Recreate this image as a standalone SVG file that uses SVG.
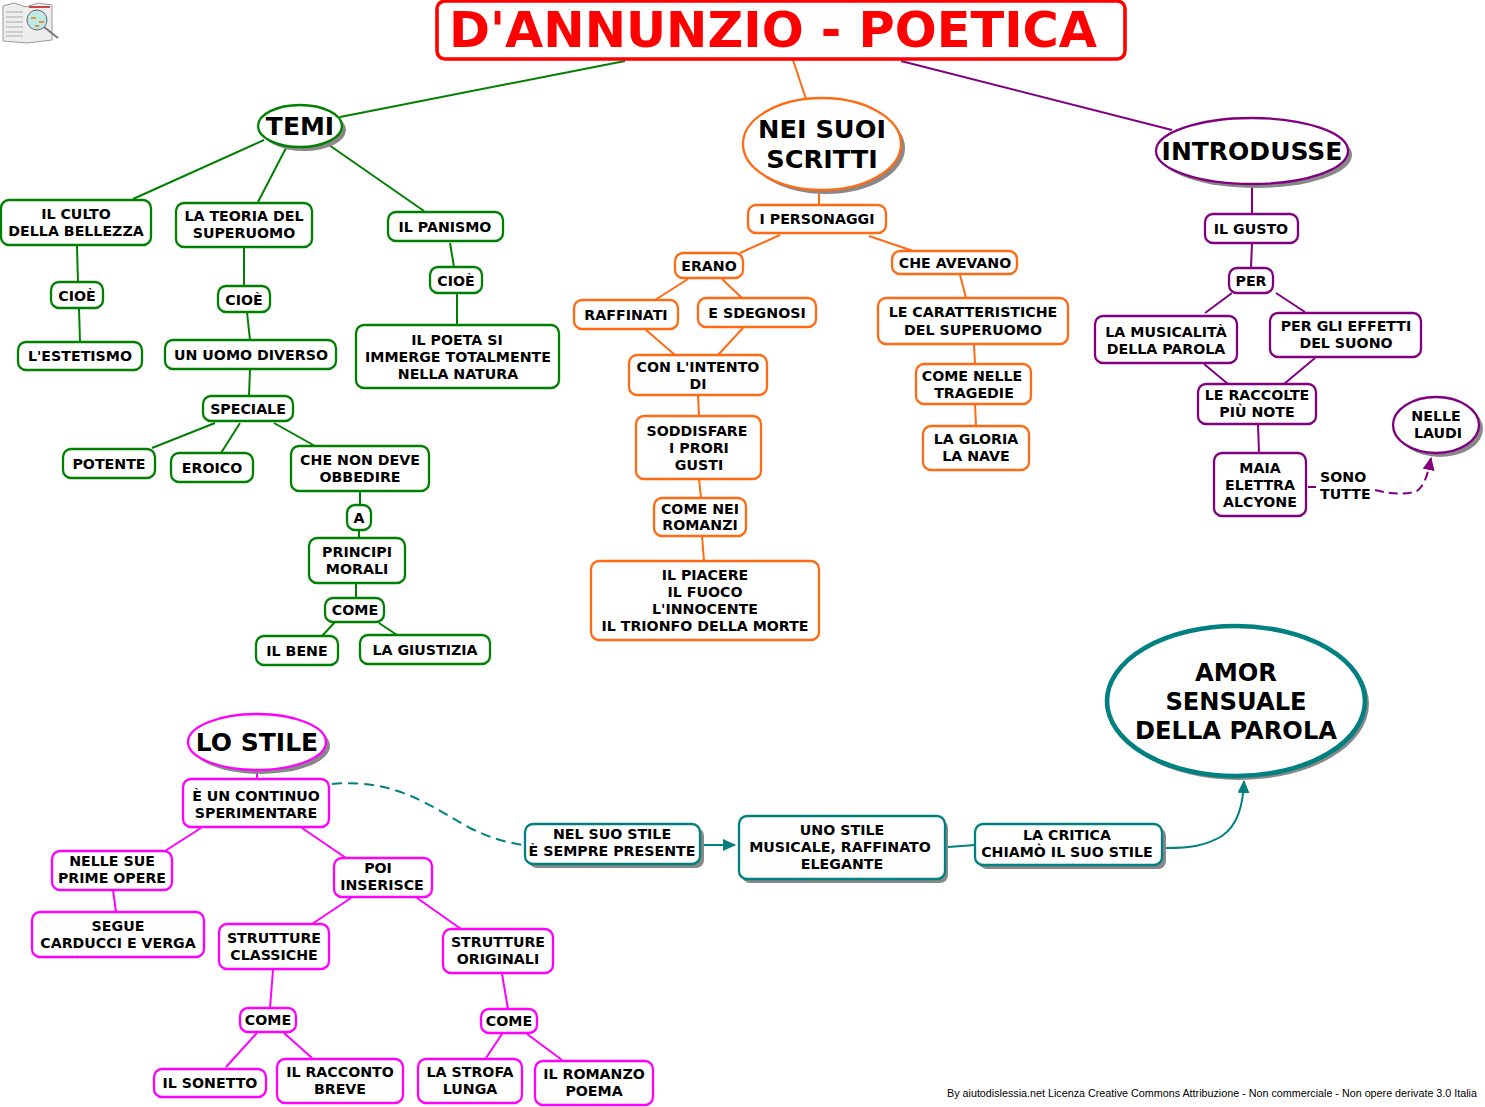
<svg xmlns="http://www.w3.org/2000/svg" width="1485" height="1107" viewBox="0 0 1485 1107">
<style>
text{font-family:"DejaVu Sans",Verdana,sans-serif;font-weight:700;fill:#000;text-anchor:middle;font-size:14.2px}
.n rect,.n ellipse{fill:#fff;stroke-width:2.3}
.g rect,.g ellipse{stroke:#008000}.o rect,.o ellipse{stroke:#ff6a13}.p rect,.p ellipse{stroke:#800080}.m rect,.m ellipse{stroke:#ff00ff}.t rect,.t ellipse{stroke:#008080}
.n .s{fill:#888;stroke:none}
#connectors path{fill:none;stroke-width:2}
.cg{stroke:#008000}.co{stroke:#ff6a13}.cp{stroke:#800080}.cm{stroke:#ff00ff}.ct{stroke:#008080}
text.big{font-size:25px}text.mid{font-size:24.2px}text.nei{font-size:25.6px}
#footer text{font:400 10.75px "Liberation Sans",Arial,sans-serif;text-anchor:start}
</style>
<defs>
<marker id="at" markerUnits="userSpaceOnUse" markerWidth="13" markerHeight="12" refX="12" refY="6" orient="auto"><path d="M0 0L13 6L0 12z" fill="#008080"/></marker>
<marker id="ap" markerUnits="userSpaceOnUse" markerWidth="13" markerHeight="12" refX="12" refY="6" orient="auto"><path d="M0 0L13 6L0 12z" fill="#800080"/></marker>
</defs>
<g id="icon">
<path d="M3 6L14 3L26 7L38 3L52 5V40L27 43L3 41z" fill="#eee" stroke="#999"/>
<path d="M6 12H23M6 17H23M6 22H23M6 27H23M6 32H23M6 36H23" stroke="#aaa"/>
<path d="M29 7H50" stroke="#c44" stroke-width="2"/>
<path d="M44 27L58 38" stroke="#777" stroke-width="2"/>
<circle cx="37" cy="20" r="10" fill="#bfe8e8" stroke="#666"/>
<path d="M31 18h5M39 22h5M35 26h4" stroke="#d89a30" stroke-width="2"/>
</g>
<g id="connectors">
<path class="cg" d="M625 61L340 117M264 140L133 199M286 148L258 202M329 145L424 211M77 246L78 282M79 308L80 342M244 248V286M247 312L250 340M450 243L454 267M457 293V325M250 369L249 396M215 423L152 448M240 423L221 453M274 423L315 446M360 491V505M359 530V538M356 583V598M335 622L322 636M379 623L397 635"/>
<path class="co" d="M793 60L806 99M819 190V205M780 235L740 253M869 236L913 251M688 279L655 300M722 279L742 298M646 330L675 355M743 328L718 355M960 275L966 298M974 344L975 364M975 404L976 426M698 395L699 416M699 479L701 498M702 536L704 561"/>
<path class="cp" d="M901 61L1172 130M1252 185V214M1252 243L1251 268M1232 293L1205 313M1276 293L1305 312M1204 364L1228 384M1315 358L1284 384M1258 424L1259 453M1308 487H1316"/>
<path class="cp" d="M1375 490C1390 494 1405 495 1417 491C1425 485 1428 473 1431 458" stroke-dasharray="9 5" marker-end="url(#ap)"/>
<path class="cm" d="M257 769V779M201 828L165 851M302 828L346 858M113 890L116 912M351 898L312 924M417 898L461 929M273 970L270 1008M502 974L508 1009M257 1033L226 1067M284 1033L312 1058M502 1034L486 1058M527 1034L562 1060"/>
<path class="ct" d="M332 784C395 778 430 806 470 828C490 838 505 842 523 845" stroke-dasharray="10 6"/>
<path class="ct" d="M704 845H735" marker-end="url(#at)"/>
<path class="ct" d="M948 847L975 845"/>
<path class="ct" d="M1166 848C1190 848 1205 846 1222 836C1238 825 1243 805 1244 781" marker-end="url(#at)"/>
</g>
<g id="title"><rect x="437" y="1" width="688" height="58" rx="8" fill="#fff" stroke="#f00" stroke-width="3.6"/><text x="773" y="47" style="font-size:50px;fill:#f00" textLength="648" lengthAdjust="spacingAndGlyphs">D'ANNUNZIO - POETICA</text></g>

<g id="temi" class="n g"><ellipse class="s" cx="304" cy="130" rx="42" ry="21"/><ellipse cx="300" cy="126" rx="42" ry="21"/><text x="300" y="135" class="big">TEMI</text></g>
<g id="g1" class="n g"><rect x="1" y="200" width="150" height="45" rx="8"/><text x="76" y="219">IL CULTO</text><text x="76" y="236">DELLA BELLEZZA</text></g>
<g id="g2" class="n g"><rect x="176" y="203" width="136" height="44" rx="8"/><text x="244" y="221">LA TEORIA DEL</text><text x="244" y="238">SUPERUOMO</text></g>
<g id="g3" class="n g"><rect x="388" y="212" width="115" height="29" rx="8"/><text x="445" y="232">IL PANISMO</text></g>
<g id="g4" class="n g"><rect x="51" y="282" width="52" height="26" rx="8"/><text x="77" y="301">CIOÈ</text></g>
<g id="g5" class="n g"><rect x="218" y="286" width="52" height="26" rx="8"/><text x="244" y="305">CIOÈ</text></g>
<g id="g6" class="n g"><rect x="430" y="267" width="52" height="26" rx="8"/><text x="456" y="286">CIOÈ</text></g>
<g id="g7" class="n g"><rect x="18" y="342" width="124" height="28" rx="8"/><text x="80" y="361">L'ESTETISMO</text></g>
<g id="g8" class="n g"><rect x="165" y="340" width="171" height="29" rx="8"/><text x="251" y="360">UN UOMO DIVERSO</text></g>
<g id="g9" class="n g"><rect x="356" y="325" width="203" height="63" rx="8"/><text x="457" y="345">IL POETA SI</text><text x="458" y="362">IMMERGE TOTALMENTE</text><text x="458" y="379">NELLA NATURA</text></g>
<g id="g10" class="n g"><rect x="203" y="396" width="90" height="25" rx="8"/><text x="248" y="414">SPECIALE</text></g>
<g id="g11" class="n g"><rect x="63" y="449" width="92" height="29" rx="8"/><text x="109" y="469">POTENTE</text></g>
<g id="g12" class="n g"><rect x="171" y="453" width="82" height="29" rx="8"/><text x="212" y="473">EROICO</text></g>
<g id="g13" class="n g"><rect x="291" y="446" width="138" height="45" rx="8"/><text x="360" y="465">CHE NON DEVE</text><text x="360" y="482">OBBEDIRE</text></g>
<g id="g14" class="n g"><rect x="347" y="505" width="24" height="25" rx="8"/><text x="359" y="523">A</text></g>
<g id="g15" class="n g"><rect x="309" y="538" width="96" height="45" rx="8"/><text x="357" y="557">PRINCIPI</text><text x="357" y="574">MORALI</text></g>
<g id="g16" class="n g"><rect x="325" y="598" width="59" height="24" rx="8"/><text x="355" y="615">COME</text></g>
<g id="g17" class="n g"><rect x="256" y="636" width="82" height="29" rx="8"/><text x="297" y="656">IL BENE</text></g>
<g id="g18" class="n g"><rect x="360" y="635" width="130" height="29" rx="8"/><text x="425" y="655">LA GIUSTIZIA</text></g>

<g id="scritti" class="n o"><ellipse class="s" cx="826" cy="148" rx="79" ry="46"/><ellipse cx="822" cy="144" rx="79" ry="46"/><text x="822" y="138" class="nei">NEI SUOI</text><text x="822" y="168" class="nei">SCRITTI</text></g>
<g id="o1" class="n o"><rect x="748" y="205" width="138" height="28" rx="8"/><text x="817" y="224">I PERSONAGGI</text></g>
<g id="o2" class="n o"><rect x="675" y="253" width="68" height="25" rx="8"/><text x="709" y="271">ERANO</text></g>
<g id="o3" class="n o"><rect x="892" y="251" width="125" height="23" rx="8"/><text x="955" y="268">CHE AVEVANO</text></g>
<g id="o4" class="n o"><rect x="574" y="300" width="104" height="29" rx="8"/><text x="626" y="320">RAFFINATI</text></g>
<g id="o5" class="n o"><rect x="698" y="298" width="118" height="29" rx="8"/><text x="757" y="318">E SDEGNOSI</text></g>
<g id="o6" class="n o"><rect x="878" y="298" width="190" height="46" rx="8"/><text x="973" y="317">LE CARATTERISTICHE</text><text x="973" y="335">DEL SUPERUOMO</text></g>
<g id="o7" class="n o"><rect x="629" y="355" width="138" height="40" rx="8"/><text x="698" y="372">CON L'INTENTO</text><text x="698" y="389">DI</text></g>
<g id="o8" class="n o"><rect x="916" y="364" width="115" height="40" rx="8"/><text x="972" y="381">COME NELLE</text><text x="974" y="398">TRAGEDIE</text></g>
<g id="o9" class="n o"><rect x="636" y="416" width="125" height="63" rx="8"/><text x="697" y="436">SODDISFARE</text><text x="699" y="453">I PRORI</text><text x="699" y="470">GUSTI</text></g>
<g id="o10" class="n o"><rect x="923" y="426" width="106" height="44" rx="8"/><text x="976" y="444">LA GLORIA</text><text x="976" y="461">LA NAVE</text></g>
<g id="o11" class="n o"><rect x="654" y="498" width="92" height="38" rx="8"/><text x="700" y="514">COME NEI</text><text x="700" y="530">ROMANZI</text></g>
<g id="o12" class="n o"><rect x="591" y="561" width="228" height="79" rx="8"/><text x="705" y="580">IL PIACERE</text><text x="705" y="597">IL FUOCO</text><text x="705" y="614">L'INNOCENTE</text><text x="705" y="631">IL TRIONFO DELLA MORTE</text></g>

<g id="introdusse" class="n p"><ellipse class="s" cx="1256" cy="155" rx="96" ry="33"/><ellipse cx="1252" cy="151" rx="96" ry="33"/><text x="1252" y="160" class="big">INTRODUSSE</text></g>
<g id="p1" class="n p"><rect x="1205" y="214" width="93" height="29" rx="8"/><text x="1251" y="234">IL GUSTO</text></g>
<g id="p2" class="n p"><rect x="1229" y="268" width="44" height="25" rx="8"/><text x="1251" y="286">PER</text></g>
<g id="p3" class="n p"><rect x="1095" y="316" width="142" height="47" rx="8"/><text x="1166" y="337">LA MUSICALITÀ</text><text x="1166" y="354">DELLA PAROLA</text></g>
<g id="p4" class="n p"><rect x="1270" y="313" width="151" height="44" rx="8"/><text x="1346" y="331">PER GLI EFFETTI</text><text x="1346" y="348">DEL SUONO</text></g>
<g id="p5" class="n p"><rect x="1198" y="384" width="118" height="40" rx="8"/><text x="1257" y="400">LE RACCOLTE</text><text x="1257" y="417">PIÙ NOTE</text></g>
<g id="p6" class="n p"><rect x="1214" y="453" width="92" height="63" rx="8"/><text x="1260" y="473">MAIA</text><text x="1260" y="490">ELETTRA</text><text x="1260" y="507">ALCYONE</text></g>
<g id="p7" class="n p"><ellipse class="s" cx="1440" cy="429" rx="43" ry="28"/><ellipse cx="1436" cy="425" rx="43" ry="28"/><text x="1436" y="421">NELLE</text><text x="1438" y="438">LAUDI</text></g>
<g id="p8"><text x="1320" y="482" style="text-anchor:start">SONO</text><text x="1320" y="499" style="text-anchor:start">TUTTE</text></g>

<g id="stile" class="n m"><ellipse class="s" cx="261" cy="746" rx="69" ry="28"/><ellipse cx="257" cy="742" rx="69" ry="28"/><text x="257" y="751" class="big">LO STILE</text></g>
<g id="m1" class="n m"><rect x="183" y="779" width="146" height="48" rx="8"/><text x="256" y="801">È UN CONTINUO</text><text x="256" y="818">SPERIMENTARE</text></g>
<g id="m2" class="n m"><rect x="52" y="851" width="120" height="39" rx="8"/><text x="112" y="866">NELLE SUE</text><text x="112" y="883">PRIME OPERE</text></g>
<g id="m3" class="n m"><rect x="334" y="858" width="98" height="39" rx="8"/><text x="378" y="873">POI</text><text x="382" y="890">INSERISCE</text></g>
<g id="m4" class="n m"><rect x="32" y="912" width="172" height="45" rx="8"/><text x="118" y="931">SEGUE</text><text x="118" y="948">CARDUCCI E VERGA</text></g>
<g id="m5" class="n m"><rect x="219" y="924" width="110" height="45" rx="8"/><text x="274" y="943">STRUTTURE</text><text x="274" y="960">CLASSICHE</text></g>
<g id="m6" class="n m"><rect x="443" y="929" width="110" height="44" rx="8"/><text x="498" y="947">STRUTTURE</text><text x="498" y="964">ORIGINALI</text></g>
<g id="m7" class="n m"><rect x="240" y="1008" width="56" height="24" rx="8"/><text x="268" y="1025">COME</text></g>
<g id="m8" class="n m"><rect x="481" y="1009" width="56" height="24" rx="8"/><text x="509" y="1026">COME</text></g>
<g id="m9" class="n m"><rect x="154" y="1069" width="112" height="28" rx="8"/><text x="210" y="1088">IL SONETTO</text></g>
<g id="m10" class="n m"><rect x="277" y="1059" width="126" height="44" rx="8"/><text x="340" y="1077">IL RACCONTO</text><text x="340" y="1094">BREVE</text></g>
<g id="m11" class="n m"><rect x="418" y="1059" width="104" height="44" rx="8"/><text x="470" y="1077">LA STROFA</text><text x="470" y="1094">LUNGA</text></g>
<g id="m12" class="n m"><rect x="535" y="1061" width="118" height="44" rx="8"/><text x="594" y="1079">IL ROMANZO</text><text x="594" y="1096">POEMA</text></g>

<g id="t1" class="n t"><rect class="s" x="529" y="828" width="175" height="40" rx="8"/><rect x="525" y="824" width="175" height="40" rx="8"/><text x="612" y="839">NEL SUO STILE</text><text x="612" y="856">È SEMPRE PRESENTE</text></g>
<g id="t2" class="n t"><rect class="s" x="742" y="820" width="206" height="63" rx="8"/><rect x="739" y="816" width="206" height="63" rx="8"/><text x="842" y="835">UNO STILE</text><text x="840" y="852">MUSICALE, RAFFINATO</text><text x="842" y="869">ELEGANTE</text></g>
<g id="t3" class="n t"><rect class="s" x="979" y="828" width="187" height="41" rx="8"/><rect x="975" y="824" width="187" height="41" rx="8"/><text x="1067" y="840">LA CRITICA</text><text x="1067" y="857">CHIAMÒ IL SUO STILE</text></g>
<g id="t4" class="n t"><ellipse class="s" cx="1239" cy="704" rx="130" ry="76"/><ellipse cx="1236" cy="701" rx="129" ry="75" style="stroke-width:4.6"/><text x="1236" y="681" class="mid">AMOR</text><text x="1236" y="710" class="mid">SENSUALE</text><text x="1236" y="739" class="mid">DELLA PAROLA</text></g>
<g id="footer"><text x="947" y="1097">By aiutodislessia.net Licenza Creative Commons Attribuzione - Non commerciale - Non opere derivate 3.0 Italia</text></g>
</svg>
